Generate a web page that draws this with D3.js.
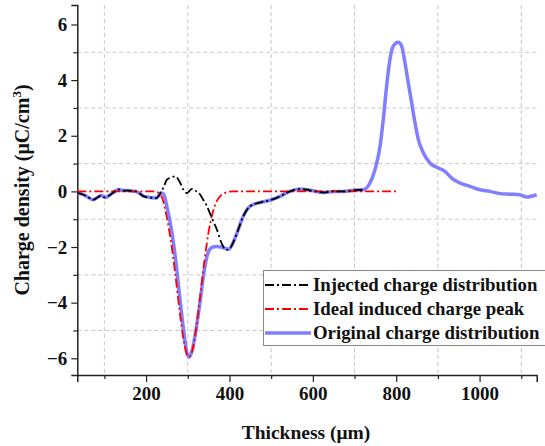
<!DOCTYPE html>
<html><head><meta charset="utf-8">
<script src="https://cdn.jsdelivr.net/npm/d3@7"></script>
<style>body{margin:0;background:#fff}svg{display:block}text{font-family:"Liberation Serif","Times New Roman",serif;font-weight:bold}</style>
</head><body>
<svg id="c" width="545" height="446"></svg>
<script>
// Original charge distribution
const origX = [35,50,60,73,85,92,102,114,125,134,145,155,165,175,185,195,210,225,235,242,250,260,270,280,290,297,303,310,320,330,340,350,360,370,380,390,398,410,418,433,449,473,497,521,545,569,593,625,649,673,697,721,737,749,761,769,777,785,793,805,813,821,829,837,845,853,865,881,901,917,933,953,977,1001,1025,1049,1073,1097,1113,1137];
const origY = [-0.05,-0.12,-0.2,-0.3,-0.2,-0.15,-0.22,-0.12,0.0,0.07,0.03,0.03,0.02,0.0,-0.08,-0.18,-0.22,-0.24,-0.05,-0.1,-0.55,-1.3,-2.35,-3.7,-5.0,-5.75,-5.95,-5.75,-4.95,-3.9,-2.8,-2.15,-2.0,-1.98,-2.0,-2.05,-2.08,-1.8,-1.5,-0.9,-0.54,-0.4,-0.32,-0.18,0.0,0.09,0.04,-0.04,0.0,0.0,0.04,0.06,0.3,0.78,1.6,2.59,3.79,4.75,5.23,5.36,5.23,4.63,3.9,3.19,2.47,1.87,1.39,1.02,0.84,0.72,0.48,0.3,0.18,0.06,0.0,-0.08,-0.1,-0.12,-0.2,-0.12];
// Injected charge distribution
const injX = [35,50,60,73,85,92,102,114,125,134,145,155,165,175,185,195,210,225,235,242,250,260,270,282,290,298,310,321,330,337,345,353,362,370,381,393,401,410,418,433,449,473,497,521,545,569,593,625,649,673,697,721];
const injY = [-0.05,-0.12,-0.2,-0.3,-0.2,-0.15,-0.22,-0.12,0.0,0.07,0.03,0.03,0.02,0.0,-0.08,-0.18,-0.22,-0.24,-0.05,0.15,0.42,0.5,0.54,0.3,0.05,-0.06,0.09,0.0,-0.12,-0.3,-0.5,-0.78,-1.1,-1.38,-1.86,-2.1,-2.05,-1.8,-1.5,-0.9,-0.54,-0.4,-0.32,-0.18,0.0,0.09,0.04,-0.04,0.0,0.0,0.04,0.06];
// Ideal induced charge peak
const idealX = [35,220,230,240,250,260,270,280,290,300,303,310,320,330,340,350,360,370,380,390,400,410,805];
const idealY = [0,0,-0.05,-0.3,-0.95,-1.83,-2.97,-4.25,-5.34,-5.92,-5.95,-5.77,-4.95,-3.74,-2.49,-1.45,-0.75,-0.34,-0.14,-0.05,-0.01,0,0];

const xTicks = [200,400,600,800,1000];
const xMinor = [100,300,500,700,900,1100];
const yTicks = [-6,-4,-2,0,2,4,6];
const yMinor = [-5,-3,-1,1,3,5];
const legendLabels = ["Injected charge distribution","Ideal induced charge peak","Original charge distribution"];

const svg = d3.select("#c");
const x = d3.scaleLinear().domain([35,1137]).range([77.3,536.7]);
const y = d3.scaleLinear().domain([-6.6,6.7]).range([375,5]);

// grid
const grid = svg.append("g").attr("stroke","#c8c8c8").attr("stroke-width",1).attr("stroke-dasharray","4,3");
grid.selectAll(".gx").data(xMinor).join("line").attr("x1",d=>x(d)).attr("x2",d=>x(d)).attr("y1",y(6.7)).attr("y2",y(-6.6));
grid.selectAll(".gy").data(yMinor).join("line").attr("x1",x(35)).attr("x2",x(1137)).attr("y1",d=>y(d)).attr("y2",d=>y(d));

// axes
svg.append("g").attr("transform",`translate(0,${y(-6.6)})`)
  .call(d3.axisBottom(x).tickValues(xTicks).tickSize(7).tickPadding(5).tickFormat(d3.format("d")));
svg.append("g").attr("transform",`translate(0,${y(-6.6)})`)
  .call(d3.axisBottom(x).tickValues(xMinor).tickSize(4).tickFormat("")).select(".domain").remove();
svg.append("g").attr("transform",`translate(${x(35)},0)`)
  .call(d3.axisLeft(y).tickValues(yTicks).tickSize(6).tickPadding(4).tickFormat(d3.format("d")));
svg.append("g").attr("transform",`translate(${x(35)},0)`)
  .call(d3.axisLeft(y).tickValues(yMinor).tickSize(4).tickFormat("")).select(".domain").remove();
svg.selectAll(".domain").attr("stroke","#222").attr("stroke-width",1.5);
svg.selectAll(".tick line").attr("stroke","#222").attr("stroke-width",1.2);
svg.selectAll(".tick text").attr("font-family","'Liberation Serif',serif").attr("font-weight","bold").attr("font-size",19).attr("fill","#111");

// titles
svg.append("text").attr("x",306).attr("y",439).attr("text-anchor","middle").attr("font-size",19.5).attr("fill","#111").text("Thickness (μm)");
const yt = svg.append("text").attr("transform","translate(29,190) rotate(-90)").attr("text-anchor","middle").attr("font-size",20).attr("fill","#111");
yt.append("tspan").text("Charge density (μC/cm");
yt.append("tspan").attr("font-size",13).attr("dy",-8).text("3");
yt.append("tspan").attr("dy",8).text(")");

// lines
const line = d3.line().x(d=>x(d[0])).y(d=>y(d[1])).curve(d3.curveMonotoneX);
const g = svg.append("g");
g.append("path").datum(d3.zip(origX,origY)).attr("d",line).attr("fill","none").attr("stroke","#8080ff").attr("stroke-width",3.5).attr("stroke-linejoin","round");
g.append("path").datum(d3.zip(idealX,idealY)).attr("d",line).attr("fill","none").attr("stroke","#ff0000").attr("stroke-width",1.8).attr("stroke-dasharray","9,3,2,3");
g.append("path").datum(d3.zip(injX,injY)).attr("d",line).attr("fill","none").attr("stroke","#000").attr("stroke-width",1.8).attr("stroke-dasharray","9,3,2,3");

// legend
const lg = svg.append("g");
lg.append("rect").attr("x",263.5).attr("y",270.5).attr("width",300).attr("height",75).attr("fill","#fff").attr("stroke","#888").attr("stroke-width",1);
const styles = [{c:"#000",w:1.8,da:"9,3,2,3"},{c:"#ff0000",w:1.8,da:"9,3,2,3"},{c:"#8080ff",w:3.5,da:null}];
legendLabels.forEach((t,i)=>{
  const yy = 285 + i*24;
  lg.append("line").attr("x1",265).attr("x2",311).attr("y1",yy).attr("y2",yy).attr("stroke",styles[i].c).attr("stroke-width",styles[i].w).attr("stroke-dasharray",styles[i].da);
  lg.append("text").attr("x",313).attr("y",yy+6).attr("font-size",18.8).attr("fill","#111").text(t);
});
</script>
</body></html>
